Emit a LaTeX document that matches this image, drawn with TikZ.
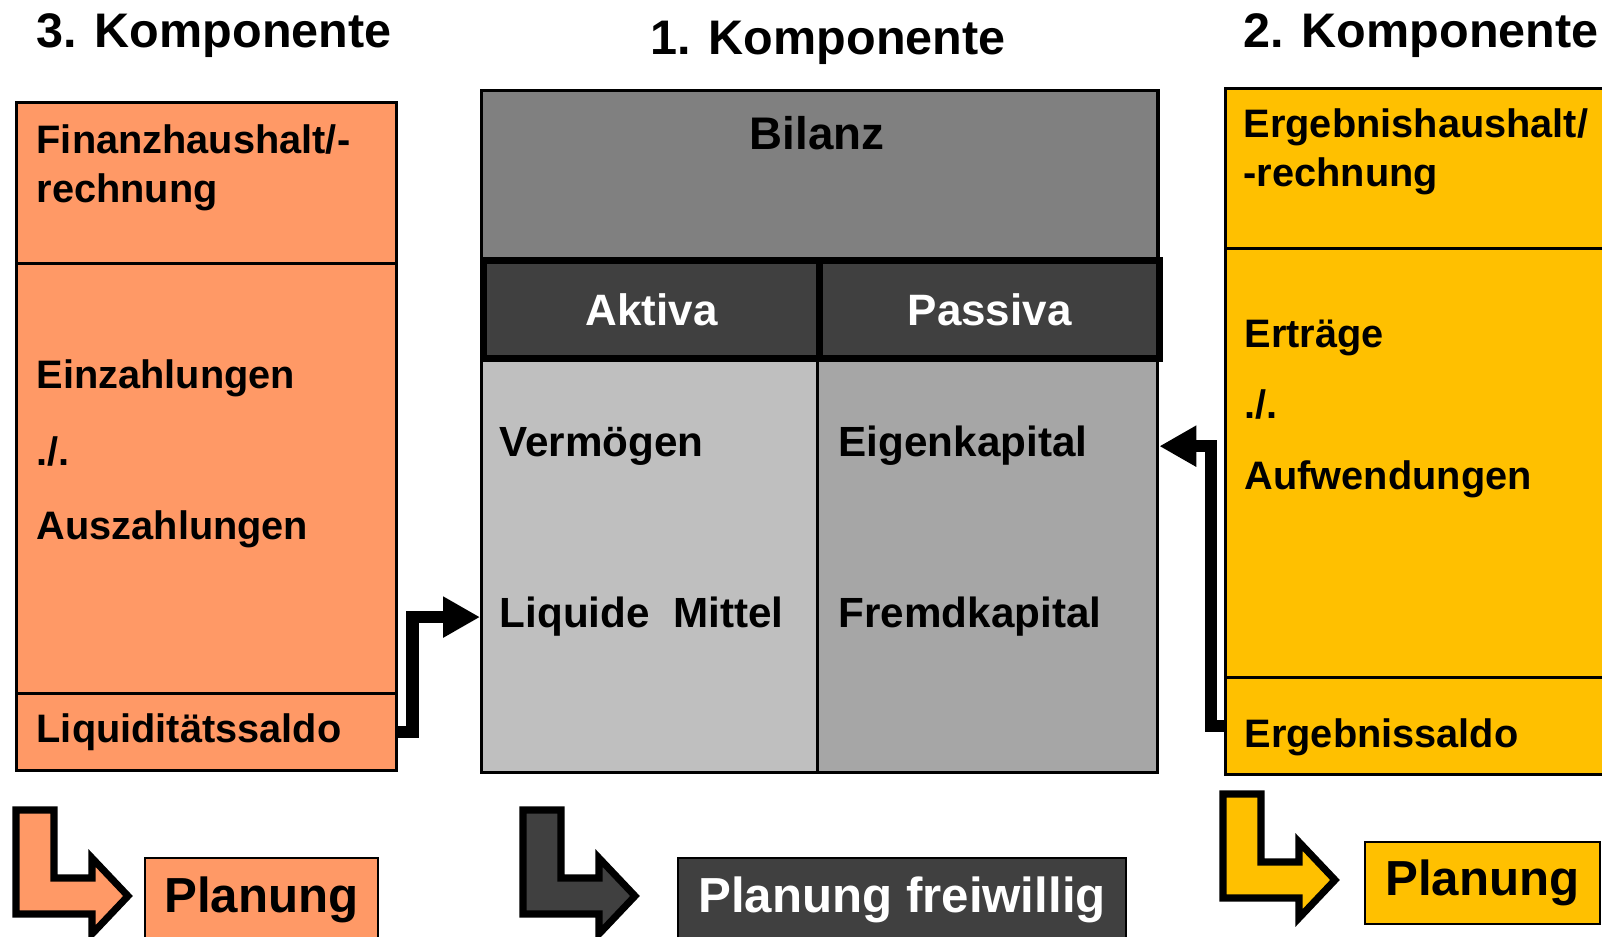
\documentclass[tikz,border=0pt]{standalone}
\usepackage{fontspec}
\setmainfont{Liberation Sans}
\usetikzlibrary{arrows.meta}

\definecolor{finorange}{HTML}{FF9966}
\definecolor{ergyellow}{HTML}{FFC000}
\definecolor{bilgray}{HTML}{808080}
\definecolor{bildark}{HTML}{404040}
\definecolor{aktgray}{HTML}{BFBFBF}
\definecolor{pasgray}{HTML}{A6A6A6}

\tikzset{
  sect/.style={draw, line width=0.9pt, anchor=north west, inner sep=0pt},
  sidetxt/.style={anchor=base west, inner sep=0pt, font=\fontsize{11.3}{14}\selectfont\bfseries},
  bodytxt/.style={anchor=base west, inner sep=0pt, font=\fontsize{12}{14}\selectfont\bfseries},
  komptitle/.style={inner sep=0pt, font=\fontsize{13.8}{16}\selectfont\bfseries},
  plan/.style={draw, line width=0.6pt, inner sep=0pt, font=\fontsize{14}{16}\selectfont\bfseries},
  conn/.style={line width=3.5pt, -{Triangle[length=10.5pt,width=11pt]}},
  bentarrow/.style={draw, line width=2pt},
}

\begin{document}
\begin{tikzpicture}[x=0.01cm, y=-0.01cm]
\useasboundingbox (0,0) rectangle (1602,937);

% titles
\node[komptitle] (k3) at (214,36) {3. Komponente};
\node[komptitle] (k1) at (828,43) {1. Komponente};
\node[komptitle] (k2) at (1421,36) {2. Komponente};

% 3. Komponente
\node[sect, fill=finorange, minimum width=3.8cm, minimum height=1.61cm] (finhead) at (15,101) {};
\node[sect, fill=finorange, minimum width=3.8cm, minimum height=4.30cm] (finmid) at (15,262) {};
\node[sect, fill=finorange, minimum width=3.8cm, minimum height=0.77cm] (finsaldo) at (15,692) {};
\node[sidetxt, anchor=north west, align=left] (fintitle) at (36,124) {Finanzhaushalt/-\\rechnung};
\node[sidetxt] (einz) at (36,389) {Einzahlungen};
\node[sidetxt] (finminus) at (36,466) {./.};
\node[sidetxt] (ausz) at (36,540) {Auszahlungen};
\node[sidetxt] (liqsaldo) at (36,743) {Liquiditätssaldo};

% 1. Komponente
\node[sect, fill=aktgray, minimum width=3.36cm, minimum height=4.16cm] (aktcol) at (480,355) {};
\node[sect, fill=pasgray, minimum width=3.40cm, minimum height=4.16cm] (pascol) at (816,355) {};
\node[sect, fill=bilgray, minimum width=6.76cm, minimum height=1.68cm] (bilhead) at (480,89) {};
\node[komptitle, font=\fontsize{13}{16}\selectfont\bfseries] (bilanz) at (817,133) {Bilanz};
\node[sect, fill=bildark, line width=2pt, text=white, font=\fontsize{12.5}{15}\selectfont\bfseries,
  minimum width=3.36cm, minimum height=0.98cm] (akt) at (480,257) {Aktiva};
\node[sect, fill=bildark, line width=2pt, text=white, font=\fontsize{12.5}{15}\selectfont\bfseries,
  minimum width=3.40cm, minimum height=0.98cm] (pas) at (816,257) {Passiva};
\node[bodytxt] (verm) at (499,457) {Vermögen};
\node[bodytxt] (liq) at (499,628) {Liquide~ Mittel};
\node[bodytxt] (eig) at (838,457) {Eigenkapital};
\node[bodytxt] (fremd) at (838,628) {Fremdkapital};

% 2. Komponente
\node[sect, fill=ergyellow, minimum width=3.9cm, minimum height=1.60cm] (erghead) at (1224,87) {};
\node[sect, fill=ergyellow, minimum width=3.9cm, minimum height=4.29cm] (ergmid) at (1224,247) {};
\node[sect, fill=ergyellow, minimum width=3.9cm, minimum height=0.97cm] (ergsaldo) at (1224,676) {};
\node[sidetxt, anchor=north west, align=left] (ergtitle) at (1243,108) {Ergebnishaushalt/\\-rechnung};
\node[sidetxt] (ertr) at (1244,348) {Erträge};
\node[sidetxt] (ergminus) at (1244,419) {./.};
\node[sidetxt] (aufw) at (1244,490) {Aufwendungen};
\node[sidetxt] (ergsaldotxt) at (1244,748) {Ergebnissaldo};

% connectors
\draw[conn] (finsaldo.east) -- ++(14,0) |- (liq.west -| aktcol.west);
\draw[conn] (ergsaldo.west) -- ++(-13,0) |- (eig.west -| pascol.east);

% planning
\foreach \dx/\dy/\col in {0/0/finorange, 507/0/bildark, 1207/-16/ergyellow}
  \draw[bentarrow, fill=\col, shift={(\dx,\dy)}] (16,810) -- (54,810) -- (54,878) -- (92,878)
    -- (92,858) -- (128,896) -- (92,934) -- (92,914) -- (16,914) -- cycle;
\node[plan, fill=finorange, minimum width=2.33cm, minimum height=0.84cm] (planfin) at (261.5,900) {Planung};
\node[plan, fill=bildark, text=white, minimum width=4.48cm, minimum height=0.84cm] (planbil) at (902,900) {Planung freiwillig};
\node[plan, fill=ergyellow, minimum width=2.35cm, minimum height=0.82cm] (planerg) at (1482.5,883) {Planung};
\end{tikzpicture}
\end{document}
